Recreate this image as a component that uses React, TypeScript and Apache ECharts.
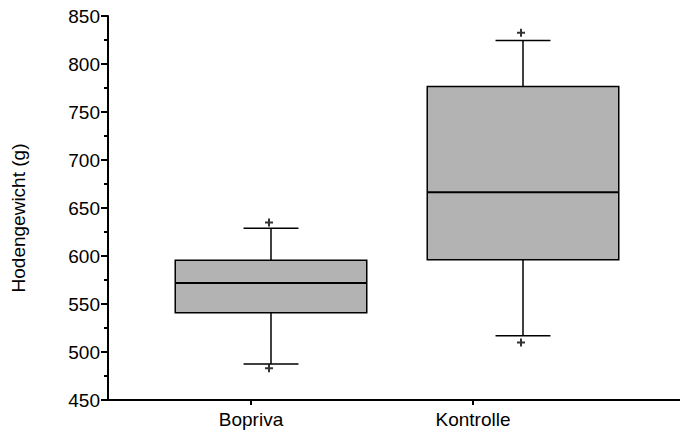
import React, { useEffect, useRef } from "react";
import * as echarts from "echarts";

const categories = ["Bopriva", "Kontrolle"];
const boxPositions = [1, 2];
const lowerWhisker = [487.5, 517];
const q1 = [541, 596];
const median = [572, 666.5];
const q3 = [595.5, 776.5];
const upperWhisker = [629, 824.5];
const outliers: [number, number][] = [
  [1, 635],
  [1, 483],
  [2, 832.5],
  [2, 510],
];
const labelPositions = [0.9206, 1.8016];
const yTicks = { min: 450, max: 850, interval: 50 };

const FONT = '"Liberation Sans", Arial, sans-serif';

export default function App() {
  const ref = useRef<HTMLDivElement>(null);
  useEffect(() => {
    if (!ref.current) return;
    const chart = echarts.init(ref.current, undefined, { renderer: "svg" });
    const boxData = boxPositions.map((p, i) => [
      p,
      lowerWhisker[i],
      q1[i],
      median[i],
      q3[i],
      upperWhisker[i],
    ]);
    const lineStyle = { stroke: "#000", lineWidth: 1.5 };
    chart.setOption({
      animation: false,
      grid: { left: 108, right: 0, top: 16, bottom: 39 },
      xAxis: {
        type: "value",
        min: 0.3532,
        max: 2.623,
        splitLine: { show: false },
        axisLine: { onZero: false, lineStyle: { color: "#000", width: 2 } },
        axisTick: {
          show: true,
          customValues: labelPositions,
          length: 5,
          lineStyle: { color: "#000", width: 2 },
        },
        axisLabel: {
          customValues: labelPositions,
          formatter: (v: number) => {
            const i = labelPositions.findIndex((p) => Math.abs(p - v) < 1e-6);
            return i >= 0 ? categories[i] : "";
          },
          color: "#000",
          fontSize: 19,
          fontFamily: FONT,
          margin: 10,
        },
      },
      yAxis: {
        type: "value",
        min: yTicks.min,
        max: yTicks.max,
        interval: yTicks.interval,
        name: "Hodengewicht (g)",
        nameLocation: "middle",
        nameRotate: 90,
        nameGap: 80,
        nameTextStyle: { color: "#000", fontSize: 19, fontFamily: FONT, padding: [0, 20, 0, 0] },
        splitLine: { show: false },
        axisLine: { show: true, onZero: false, lineStyle: { color: "#000", width: 2 } },
        axisTick: { show: true, length: 7, lineStyle: { color: "#000", width: 2 } },
        minorTick: { show: true, splitNumber: 2, length: 4, lineStyle: { color: "#000", width: 2 } },
        axisLabel: { color: "#000", fontSize: 19, fontFamily: FONT, margin: 8 },
      },
      series: [
        {
          type: "custom",
          data: boxData,
          encode: { x: 0, y: [1, 2, 3, 4, 5] },
          renderItem: (params: any, api: any) => {
            const x = api.value(0);
            const lo = api.coord([x, api.value(1)]);
            const b1 = api.coord([x, api.value(2)]);
            const md = api.coord([x, api.value(3)]);
            const b3 = api.coord([x, api.value(4)]);
            const hi = api.coord([x, api.value(5)]);
            const unit = api.size([1, 0])[0];
            const bw = unit * 0.76;
            const cw = unit * 0.218;
            const cx = lo[0];
            return {
              type: "group",
              children: [
                { type: "line", shape: { x1: cx, y1: hi[1], x2: cx, y2: b3[1] }, style: lineStyle },
                { type: "line", shape: { x1: cx, y1: b1[1], x2: cx, y2: lo[1] }, style: lineStyle },
                { type: "line", shape: { x1: cx - cw / 2, y1: hi[1], x2: cx + cw / 2, y2: hi[1] }, style: lineStyle },
                { type: "line", shape: { x1: cx - cw / 2, y1: lo[1], x2: cx + cw / 2, y2: lo[1] }, style: lineStyle },
                {
                  type: "rect",
                  shape: { x: cx - bw / 2, y: b3[1], width: bw, height: b1[1] - b3[1] },
                  style: { fill: "#b3b3b3", stroke: "#000", lineWidth: 1.5 },
                },
                { type: "line", shape: { x1: cx - bw / 2, y1: md[1], x2: cx + bw / 2, y2: md[1] }, style: { stroke: "#000", lineWidth: 2 } },
              ],
            };
          },
        },
        {
          type: "scatter",
          data: outliers,
          symbol: "path://M5,0 L5,10 M0,5 L10,5",
          symbolSize: 8,
          symbolOffset: [-2, 0],
          itemStyle: { color: "none", borderColor: "#000", borderWidth: 2 },
        },
      ],
    });
    return () => chart.dispose();
  }, []);
  return (
    <div
      ref={ref}
      style={{ position: "fixed", left: 0, top: 0, width: 680, height: 439, background: "#fff" }}
    />
  );
}
